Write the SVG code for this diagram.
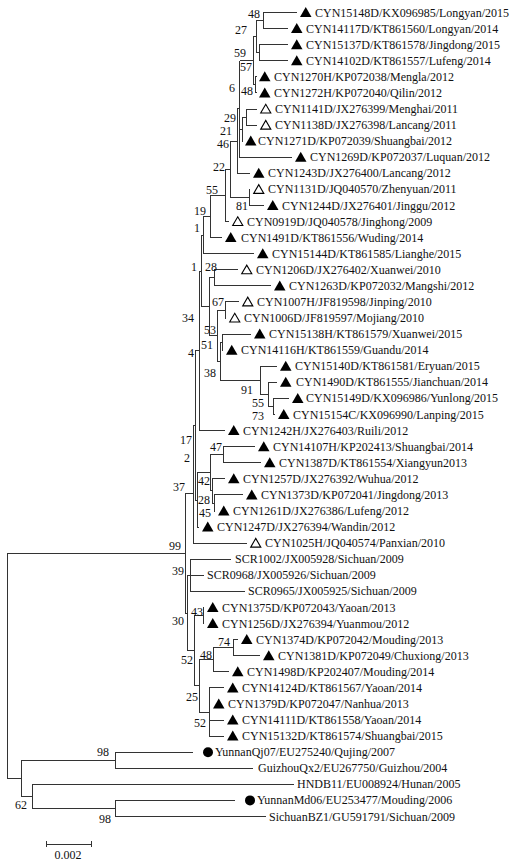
<svg xmlns="http://www.w3.org/2000/svg" width="514" height="862" viewBox="0 0 514 862">
<style>
text{font-family:"Liberation Serif","Times New Roman",serif;font-size:12px;fill:#111}
.b{text-anchor:middle}
#connectors path{fill:none;stroke:#333;stroke-width:1}
</style>
<defs>
<path id="F" d="M0,4.5L11.5,4.5L5.75,-5.5Z" fill="#000"/>
<path id="O" d="M0.7,4L10.8,4L5.75,-4.7Z" fill="#fff" stroke="#000" stroke-width="1.1"/>
<circle id="C" r="5" fill="#000"/>
</defs>
<rect width="514" height="862" fill="#fff"/>
<g id="connectors" shape-rendering="crispEdges">
<path d="M263,12.5V28.6M263,12.5H297M263,28.6H288"/>
<path d="M259,44.7V60.7M259,44.7H288M259,60.7H288"/>
<path d="M256,20.6V52.7H259M256,20.6H263"/>
<path d="M255,76.8V92.9M255,76.8H256.5M255,92.9H256.5"/>
<path d="M253,36.6V84.9H255M253,36.6H256"/>
<path d="M246,109V125.1H257M246,109H257"/>
<path d="M242,117V141.1H243M242,117H246"/>
<path d="M239.5,60.7V157.2H292M239.5,60.7H253M239.5,129.1H242"/>
<path d="M237,108.9V173.3H250M237,108.9H239.5"/>
<path d="M249,189.4V205.5H264M249,189.4H250"/>
<path d="M230,141.1V197.5H249M230,141.1H237"/>
<path d="M225,169.3V221.5H229M225,169.3H230"/>
<path d="M210,195.4V237.6H222M210,195.4H225"/>
<path d="M203,216.5V253.7H254M203,216.5H210"/>
<path d="M201,235.1V306.8H209M201,235.1H203"/>
<path d="M214,269.8V285.9H271M214,269.8H238"/>
<path d="M225,301.9V318H226M225,301.9H239"/>
<path d="M222,334.1V350.2H223M222,334.1H251"/>
<path d="M273,398.4V414.5H275M273,398.4H289"/>
<path d="M268,382.3V406.5H273M268,382.3H277"/>
<path d="M260,366.3V394.4H268M260,366.3H277"/>
<path d="M220,342.2V380.4H260M220,342.2H222"/>
<path d="M217,310V361.3H220M217,310H225"/>
<path d="M209,277.9V335.7H217M209,277.9H214"/>
<path d="M199,271.2V430.6H225M199,271.2H201"/>
<path d="M223,446.7V462.7H261M223,446.7H255"/>
<path d="M214,494.9V511H215M214,494.9H243"/>
<path d="M212,478.8V503H214M212,478.8H225"/>
<path d="M210,454.7V490.9H212M210,454.7H223"/>
<path d="M197,472.8V527.1H199M197,472.8H210"/>
<path d="M195,350.9V500H197M195,350.9H199"/>
<path d="M193,425.5V543.1H247M193,425.5H195"/>
<path d="M185,493V613H187M185,493H193"/>
<path d="M190,559.2V591.4H245M190,559.2H231M190,575.3H204"/>
<path d="M187,575.3V650.7H194M187,575.3H190"/>
<path d="M203,607.5V623.5H204M203,607.5H204"/>
<path d="M233,639.6V655.7H260M233,639.6H238"/>
<path d="M213,647.7V671.8H229M213,647.7H233"/>
<path d="M209,687.9V736.1H224M209,687.9H224M209,703.9H210M209,720H224"/>
<path d="M199,659.7V712H209M199,659.7H213"/>
<path d="M194,615.5V685.9H199M194,615.5H203"/>
<path d="M7,553V778.3H21M7,553H185"/>
<path d="M115,752.2V768.3H253M115,752.2H193"/>
<path d="M115,800.4V816.5H266M115,800.4H235"/>
<path d="M32,784.3V808.5H115M32,784.3H294"/>
<path d="M21,760.2V796.4H32M21,760.2H115"/>
</g>
<g id="l1"><use href="#F" x="300" y="12.5"/><text x="315" y="16.5">CYN15148D/KX096985/Longyan/2015</text></g>
<g id="l2"><use href="#F" x="291" y="28.6"/><text x="306" y="32.6">CYN14117D/KT861560/Longyan/2014</text></g>
<g id="l3"><use href="#F" x="291" y="44.7"/><text x="306" y="48.7">CYN15137D/KT861578/Jingdong/2015</text></g>
<g id="l4"><use href="#F" x="291" y="60.7"/><text x="306" y="64.7">CYN14102D/KT861557/Lufeng/2014</text></g>
<g id="l5"><use href="#F" x="259" y="76.8"/><text x="274" y="80.8">CYN1270H/KP072038/Mengla/2012</text></g>
<g id="l6"><use href="#F" x="259" y="92.9"/><text x="274" y="96.9">CYN1272H/KP072040/Qilin/2012</text></g>
<g id="l7"><use href="#O" x="260" y="109"/><text x="275" y="113">CYN1141D/JX276399/Menghai/2011</text></g>
<g id="l8"><use href="#O" x="260" y="125.1"/><text x="275" y="129.1">CYN1138D/JX276398/Lancang/2011</text></g>
<g id="l9"><use href="#F" x="245" y="141.1"/><text x="258" y="145.1">CYN1271D/KP072039/Shuangbai/2012</text></g>
<g id="l10"><use href="#F" x="295" y="157.2"/><text x="310" y="161.2">CYN1269D/KP072037/Luquan/2012</text></g>
<g id="l11"><use href="#F" x="253" y="173.3"/><text x="268" y="177.3">CYN1243D/JX276400/Lancang/2012</text></g>
<g id="l12"><use href="#O" x="253" y="189.4"/><text x="268" y="193.4">CYN1131D/JQ040570/Zhenyuan/2011</text></g>
<g id="l13"><use href="#F" x="267" y="205.5"/><text x="282" y="209.5">CYN1244D/JX276401/Jinggu/2012</text></g>
<g id="l14"><use href="#O" x="232" y="221.5"/><text x="247" y="225.5">CYN0919D/JQ040578/Jinghong/2009</text></g>
<g id="l15"><use href="#F" x="225" y="237.6"/><text x="241" y="241.6">CYN1491D/KT861556/Wuding/2014</text></g>
<g id="l16"><use href="#F" x="257" y="253.7"/><text x="272" y="257.7">CYN15144D/KT861585/Lianghe/2015</text></g>
<g id="l17"><use href="#O" x="241" y="269.8"/><text x="256" y="273.8">CYN1206D/JX276402/Xuanwei/2010</text></g>
<g id="l18"><use href="#F" x="274" y="285.9"/><text x="289" y="289.9">CYN1263D/KP072032/Mangshi/2012</text></g>
<g id="l19"><use href="#O" x="242" y="301.9"/><text x="257" y="305.9">CYN1007H/JF819598/Jinping/2010</text></g>
<g id="l20"><use href="#O" x="229" y="318"/><text x="244" y="322">CYN1006D/JF819597/Mojiang/2010</text></g>
<g id="l21"><use href="#F" x="254" y="334.1"/><text x="269" y="338.1">CYN15138H/KT861579/Xuanwei/2015</text></g>
<g id="l22"><use href="#F" x="226" y="350.2"/><text x="241" y="354.2">CYN14116H/KT861559/Guandu/2014</text></g>
<g id="l23"><use href="#F" x="280" y="366.3"/><text x="295" y="370.3">CYN15140D/KT861581/Eryuan/2015</text></g>
<g id="l24"><use href="#F" x="280" y="382.3"/><text x="296" y="386.3">CYN1490D/KT861555/Jianchuan/2014</text></g>
<g id="l25"><use href="#F" x="292" y="398.4"/><text x="306" y="402.4">CYN15149D/KX096986/Yunlong/2015</text></g>
<g id="l26"><use href="#F" x="278" y="414.5"/><text x="293" y="418.5">CYN15154C/KX096990/Lanping/2015</text></g>
<g id="l27"><use href="#F" x="228" y="430.6"/><text x="243" y="434.6">CYN1242H/JX276403/Ruili/2012</text></g>
<g id="l28"><use href="#F" x="258" y="446.7"/><text x="273" y="450.7">CYN14107H/KP202413/Shuangbai/2014</text></g>
<g id="l29"><use href="#F" x="264" y="462.7"/><text x="279" y="466.7">CYN1387D/KT861554/Xiangyun2013</text></g>
<g id="l30"><use href="#F" x="228" y="478.8"/><text x="243" y="482.8">CYN1257D/JX276392/Wuhua/2012</text></g>
<g id="l31"><use href="#F" x="246" y="494.9"/><text x="261" y="498.9">CYN1373D/KP072041/Jingdong/2013</text></g>
<g id="l32"><use href="#F" x="218" y="511"/><text x="233" y="515">CYN1261D/JX276386/Lufeng/2012</text></g>
<g id="l33"><use href="#F" x="202" y="527.1"/><text x="217" y="531.1">CYN1247D/JX276394/Wandin/2012</text></g>
<g id="l34"><use href="#O" x="250" y="543.1"/><text x="265" y="547.1">CYN1025H/JQ040574/Panxian/2010</text></g>
<g id="l35"><text x="235" y="563.2">SCR1002/JX005928/Sichuan/2009</text></g>
<g id="l36"><text x="207" y="579.3">SCR0968/JX005926/Sichuan/2009</text></g>
<g id="l37"><text x="248" y="595.4">SCR0965/JX005925/Sichuan/2009</text></g>
<g id="l38"><use href="#F" x="207" y="607.5"/><text x="222" y="611.5">CYN1375D/KP072043/Yaoan/2013</text></g>
<g id="l39"><use href="#F" x="207" y="623.5"/><text x="222" y="627.5">CYN1256D/JX276394/Yuanmou/2012</text></g>
<g id="l40"><use href="#F" x="241" y="639.6"/><text x="256" y="643.6">CYN1374D/KP072042/Mouding/2013</text></g>
<g id="l41"><use href="#F" x="263" y="655.7"/><text x="278" y="659.7">CYN1381D/KP072049/Chuxiong/2013</text></g>
<g id="l42"><use href="#F" x="232" y="671.8"/><text x="247" y="675.8">CYN1498D/KP202407/Mouding/2014</text></g>
<g id="l43"><use href="#F" x="227" y="687.9"/><text x="242" y="691.9">CYN14124D/KT861567/Yaoan/2014</text></g>
<g id="l44"><use href="#F" x="213" y="703.9"/><text x="228" y="707.9">CYN1379D/KP072047/Nanhua/2013</text></g>
<g id="l45"><use href="#F" x="227" y="720"/><text x="242" y="724">CYN14111D/KT861558/Yaoan/2014</text></g>
<g id="l46"><use href="#F" x="227" y="736.1"/><text x="242" y="740.1">CYN15132D/KT861574/Shuangbai/2015</text></g>
<g id="l47"><use href="#C" x="208" y="752.2"/><text x="215" y="756.2">YunnanQj07/EU275240/Qujing/2007</text></g>
<g id="l48"><text x="258" y="772.3">GuizhouQx2/EU267750/Guizhou/2004</text></g>
<g id="l49"><text x="297" y="788.3">HNDB11/EU008924/Hunan/2005</text></g>
<g id="l50"><use href="#C" x="250" y="800.4"/><text x="257" y="804.4">YunnanMd06/EU253477/Mouding/2006</text></g>
<g id="l51"><text x="269" y="820.5">SichuanBZ1/GU591791/Sichuan/2009</text></g>
<g id="bootstrap" class="b">
<text class="b" x="254" y="18">48</text>
<text class="b" x="241" y="34">27</text>
<text class="b" x="240" y="57">59</text>
<text class="b" x="246" y="71">57</text>
<text class="b" x="232" y="92">6</text>
<text class="b" x="247" y="95">48</text>
<text class="b" x="230" y="122">29</text>
<text class="b" x="226" y="135">21</text>
<text class="b" x="223" y="148">46</text>
<text class="b" x="219" y="171">22</text>
<text class="b" x="212" y="194">55</text>
<text class="b" x="242" y="210">81</text>
<text class="b" x="200" y="215">19</text>
<text class="b" x="197" y="232">1</text>
<text class="b" x="194" y="271">1</text>
<text class="b" x="211" y="271">28</text>
<text class="b" x="218" y="306">67</text>
<text class="b" x="188" y="322">34</text>
<text class="b" x="210" y="334">53</text>
<text class="b" x="207" y="349">51</text>
<text class="b" x="191" y="357">4</text>
<text class="b" x="210" y="377">38</text>
<text class="b" x="247" y="394">91</text>
<text class="b" x="258" y="407">55</text>
<text class="b" x="258" y="420">73</text>
<text class="b" x="186" y="444">17</text>
<text class="b" x="216" y="451">47</text>
<text class="b" x="187" y="462">2</text>
<text class="b" x="204" y="485">42</text>
<text class="b" x="179" y="491">37</text>
<text class="b" x="204" y="504">28</text>
<text class="b" x="205" y="517">45</text>
<text class="b" x="175" y="550">99</text>
<text class="b" x="178" y="575">39</text>
<text class="b" x="197" y="616">43</text>
<text class="b" x="178" y="625">30</text>
<text class="b" x="224" y="646">74</text>
<text class="b" x="206" y="659">48</text>
<text class="b" x="187" y="664">52</text>
<text class="b" x="192" y="701">25</text>
<text class="b" x="200" y="727">52</text>
<text class="b" x="103" y="756">98</text>
<text class="b" x="21" y="809">62</text>
<text class="b" x="105" y="823">98</text>
</g>
<g id="scalebar">
<path d="M46,844H91M46,841V847M91,841V847" fill="none" stroke="#333" stroke-width="1" shape-rendering="crispEdges"/>
<text class="b" x="68" y="859">0.002</text>
</g>
</svg>
